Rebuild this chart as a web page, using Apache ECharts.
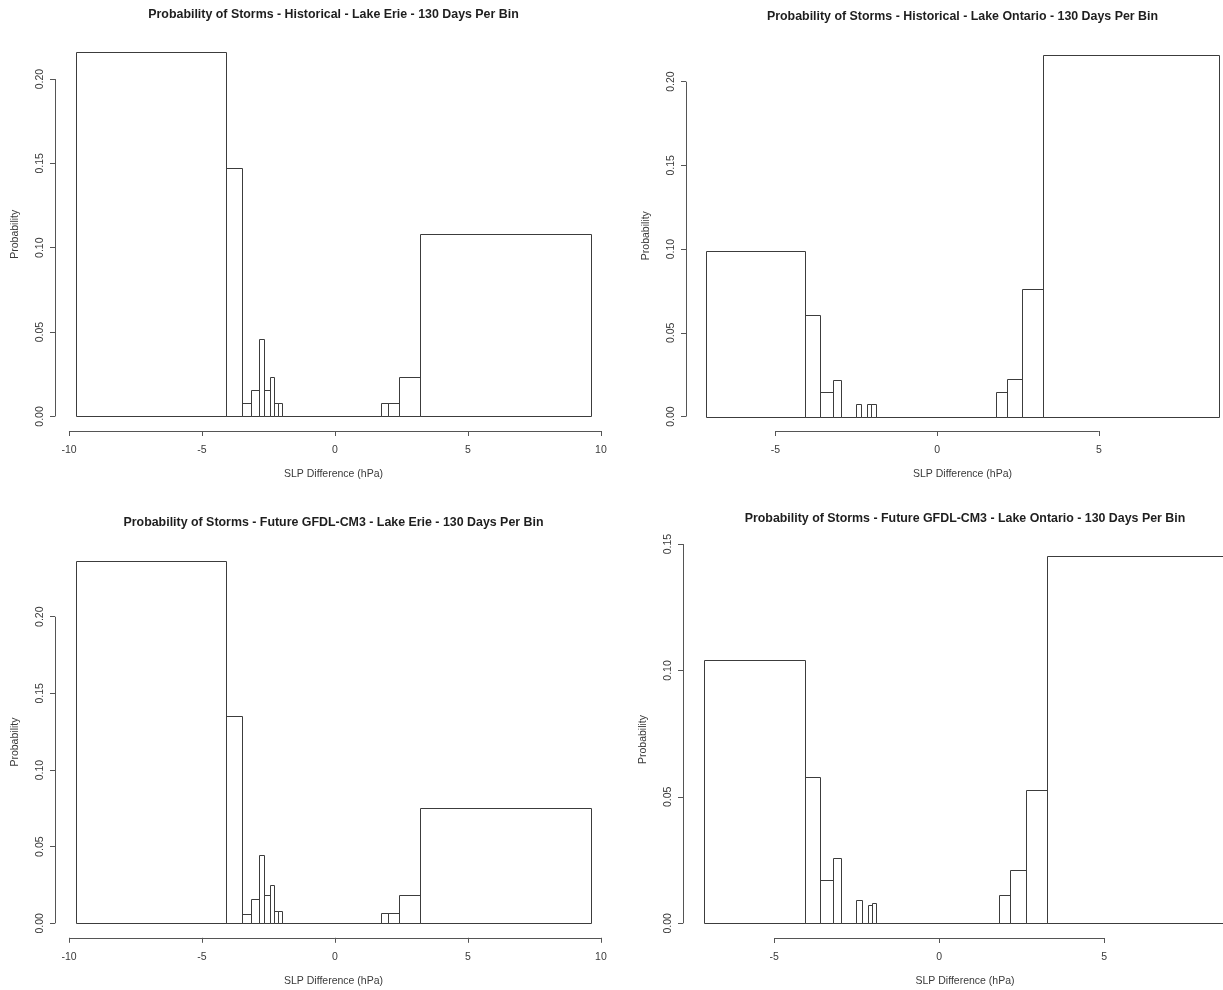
<!DOCTYPE html>
<html>
<head>
<meta charset="utf-8">
<script src="https://cdn.jsdelivr.net/npm/echarts@6/dist/echarts.min.js"></script>
<style>
  html, body { margin: 0; padding: 0; background: #fff; }
  #chart { width: 1223px; height: 990px; }
</style>
</head>
<body>
<div id="chart"></div>
<script>
// Bin edges (SLP difference, hPa) and storm probability per bin
const erieEdges = [-9.75, -4.08, -3.50, -3.16, -2.86, -2.66, -2.45, -2.29, -2.14, -2.00, 1.73, 1.98, 2.40, 3.21, 9.64];
const erieHistoricalProb = [0.216, 0.147, 0.0079, 0.0158, 0.046, 0.0158, 0.0234, 0.0079, 0.0079, 0, 0.0079, 0.0079, 0.0234, 0.108];
const erieFutureProb = [0.2365, 0.135, 0.0059, 0.0157, 0.0446, 0.0185, 0.0251, 0.0083, 0.0083, 0, 0.007, 0.007, 0.0185, 0.075];

const ontarioEdges = [-7.13, -4.08, -3.61, -3.23, -2.97, -2.51, -2.35, -2.17, -2.03, -1.90, 1.81, 2.15, 2.62, 3.27, 8.70];
const ontarioHistoricalProb = [0.099, 0.0605, 0.0145, 0.022, 0, 0.0074, 0, 0.0074, 0.0074, 0, 0.0145, 0.0223, 0.076, 0.216];
const ontarioFutureProb = [0.104, 0.058, 0.017, 0.026, 0, 0.0092, 0, 0.0073, 0.0082, 0, 0.0113, 0.021, 0.0527, 0.1454];

// Tick labels
const erieXTicks = [-10, -5, 0, 5, 10];
const ontarioXTicks = [-5, 0, 5];
const probTicksTo20 = [0, 0.05, 0.10, 0.15, 0.20];
const probTicksTo15 = [0, 0.05, 0.10, 0.15];

const panelTitles = [
  'Probability of Storms - Historical - Lake Erie - 130 Days Per Bin',
  'Probability of Storms - Historical - Lake Ontario - 130 Days Per Bin',
  'Probability of Storms - Future GFDL-CM3 - Lake Erie - 130 Days Per Bin',
  'Probability of Storms - Future GFDL-CM3 - Lake Ontario - 130 Days Per Bin'
];
const xAxisTitle = 'SLP Difference (hPa)';
const yAxisTitle = 'Probability';

// Panel layout: plot regions in pixels (right-hand plots run past the page edge)
const panels = [
  { title: panelTitles[0], edges: erieEdges, probs: erieHistoricalProb, xTicks: erieXTicks, yTicks: probTicksTo20,
    box: { left: 55, top: 37.5, width: 557, height: 393.5 }, titleY: 9 },
  { title: panelTitles[1], edges: ontarioEdges, probs: ontarioHistoricalProb, xTicks: ontarioXTicks, yTicks: probTicksTo20,
    box: { left: 686, top: 40.4, width: 553, height: 390.6 }, titleY: 11 },
  { title: panelTitles[2], edges: erieEdges, probs: erieFutureProb, xTicks: erieXTicks, yTicks: probTicksTo20,
    box: { left: 55, top: 546.3, width: 557, height: 391.5 }, titleY: 517 },
  { title: panelTitles[3], edges: ontarioEdges, probs: ontarioFutureProb, xTicks: ontarioXTicks, yTicks: probTicksTo15,
    box: { left: 683, top: 541, width: 564, height: 397 }, titleY: 513 }
];

const FONT = '"Liberation Sans", Arial, sans-serif';
const TEXT = '#3a3a3a';
const LINE = '#555';
const BAR = '#3c3c3c';
const LABEL_SIZE = 10.5;

const option = {
  backgroundColor: '#fff',
  animation: false,
  title: [], grid: [], xAxis: [], yAxis: [], series: []
};

panels.forEach((p, i) => {
  const lo = p.edges[0], hi = p.edges[p.edges.length - 1];
  const pad = 0.04 * (hi - lo);
  const xMin = lo - pad, xMax = hi + pad;
  const pMax = Math.max.apply(null, p.probs);
  const yMin = -0.04 * pMax, yMax = pMax * 1.04;

  option.grid.push(Object.assign({ containLabel: false, outerBoundsMode: 'none' }, p.box));

  option.title.push({
    text: p.title,
    left: p.box.left + p.box.width / 2,
    top: p.titleY,
    textAlign: 'center',
    padding: 0,
    textStyle: { fontFamily: FONT, fontSize: 12.4, fontWeight: 'bold', color: '#1e1e1e' }
  });

  option.xAxis.push({
    type: 'value', gridIndex: i, min: xMin, max: xMax,
    axisLine: { show: false, onZero: false },
    splitLine: { show: false },
    axisTick: { show: true, length: 5, customValues: p.xTicks, lineStyle: { color: LINE } },
    axisLabel: { customValues: p.xTicks, margin: 14, fontFamily: FONT, fontSize: LABEL_SIZE, color: TEXT,
                 formatter: v => String(v) },
    name: xAxisTitle, nameLocation: 'middle', nameGap: 38,
    nameTextStyle: { fontFamily: FONT, fontSize: LABEL_SIZE, color: TEXT }
  });

  option.yAxis.push({
    type: 'value', gridIndex: i, min: yMin, max: yMax,
    axisLine: { show: false, onZero: false },
    splitLine: { show: false },
    axisTick: { show: true, length: 5, customValues: p.yTicks, lineStyle: { color: LINE } },
    axisLabel: { customValues: p.yTicks, rotate: 90, margin: 9, fontFamily: FONT, fontSize: LABEL_SIZE, color: TEXT,
                 formatter: v => v.toFixed(2) },
    name: yAxisTitle, nameLocation: 'middle', nameGap: 34, nameRotate: 90,
    nameTextStyle: { fontFamily: FONT, fontSize: LABEL_SIZE, color: TEXT }
  });

  // histogram bins: [left edge, right edge, probability]
  const bins = p.probs.map((v, k) => [p.edges[k], p.edges[k + 1], v]);
  option.series.push({
    type: 'custom', xAxisIndex: i, yAxisIndex: i,
    encode: { x: [0, 1], y: 2 },
    data: bins,
    clip: false,
    renderItem: (params, api) => {
      const a = api.coord([api.value(0), 0]);
      const b = api.coord([api.value(1), api.value(2)]);
      return {
        type: 'rect',
        shape: { x: Math.round(a[0]) + 0.5, y: Math.round(b[1]) + 0.5,
                 width: Math.round(b[0]) - Math.round(a[0]), height: Math.round(a[1]) - Math.round(b[1]) },
        style: { fill: 'none', stroke: BAR, lineWidth: 1 }
      };
    }
  });

  // axis lines running from the first to the last tick, along the plot edges
  const xt = p.xTicks, yt = p.yTicks;
  option.series.push({
    type: 'custom', xAxisIndex: i, yAxisIndex: i,
    data: [[xt[0], xt[xt.length - 1], yt[0], yt[yt.length - 1], xMin, yMin]],
    clip: false, silent: true,
    renderItem: (params, api) => {
      const bx0 = api.coord([api.value(0), api.value(5)]);
      const bx1 = api.coord([api.value(1), api.value(5)]);
      const ly0 = api.coord([api.value(4), api.value(2)]);
      const ly1 = api.coord([api.value(4), api.value(3)]);
      const st = { stroke: LINE, lineWidth: 1 };
      const yb = Math.round(bx0[1]) + 0.5, xl = Math.round(ly0[0]) + 0.5;
      return {
        type: 'group',
        children: [
          { type: 'line', shape: { x1: bx0[0], y1: yb, x2: bx1[0], y2: yb }, style: st },
          { type: 'line', shape: { x1: xl, y1: ly0[1], x2: xl, y2: ly1[1] }, style: st }
        ]
      };
    }
  });
});

const chart = echarts.init(document.getElementById('chart'), null, { renderer: 'canvas' });
chart.setOption(option);
</script>
</body>
</html>
